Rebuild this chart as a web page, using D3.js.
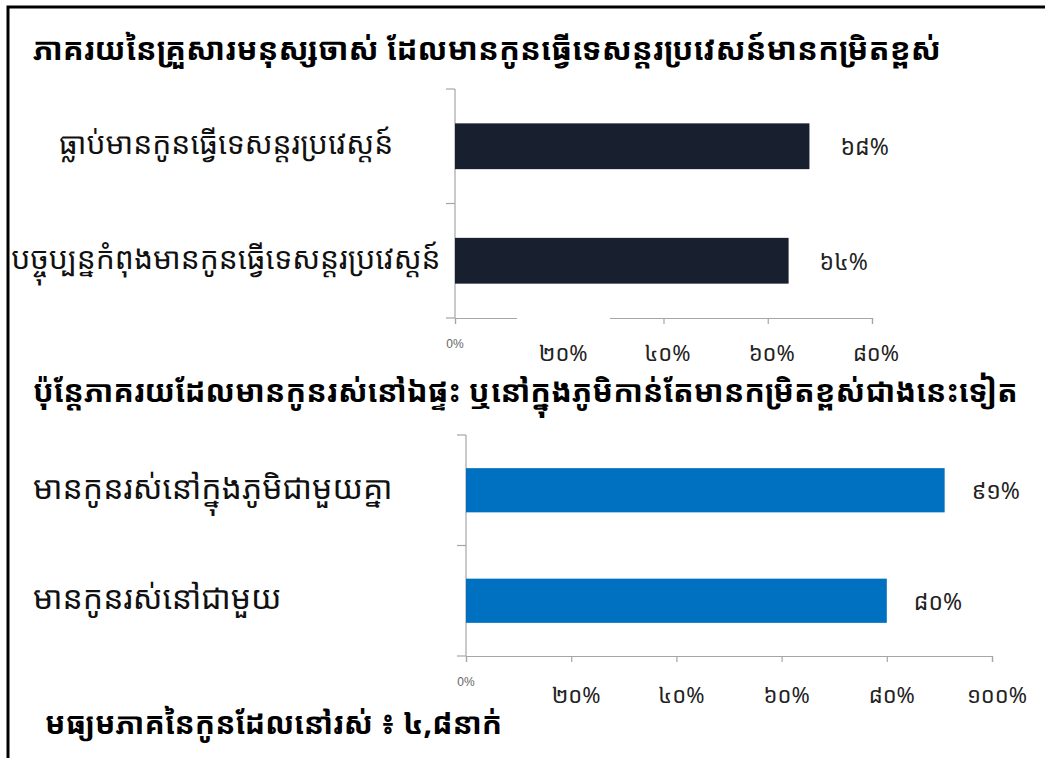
<!DOCTYPE html>
<html>
<head>
<meta charset="utf-8">
<script src="https://cdn.jsdelivr.net/npm/d3@7"></script>
<style>
html,body{margin:0;padding:0;background:#fff;}
svg{display:block;}
.kh{font-family:"Noto Sans Khmer","Khmer OS System","Khmer OS","Noto Serif Khmer","Hanuman","Battambang","DejaVu Sans",sans-serif;}
</style>
</head>
<body>
<svg id="c" width="1050" height="758"></svg>
<script>
// ---- data ----
const title1 = "ភាគរយនៃគ្រួសារមនុស្សចាស់ ដែលមានកូនធ្វើទេសន្តរប្រវេសន៍មានកម្រិតខ្ពស់";
const title2 = "ប៉ុន្តែភាគរយដែលមានកូនរស់នៅឯផ្ទះ ឬនៅក្នុងភូមិកាន់តែមានកម្រិតខ្ពស់ជាងនេះទៀត";
const title3 = "មធ្យមភាគនៃកូនដែលនៅរស់ ៖ ៤,៨នាក់";

const categories1 = ["ធ្លាប់មានកូនធ្វើទេសន្តរប្រវេស្តន៍", "បច្ចុប្បន្នកំពុងមានកូនធ្វើទេសន្តរប្រវេស្តន៍"];
const values1 = [68, 64];
const valueLabels1 = ["៦៨%", "៦៤%"];
const ticks1 = [0, 20, 40, 60, 80];
const tickLabels1 = ["0%", "២០%", "៤០%", "៦០%", "៨០%"];

const categories2 = ["មានកូនរស់នៅក្នុងភូមិជាមួយគ្នា", "មានកូនរស់នៅជាមួយ"];
const values2 = [91, 80];
const valueLabels2 = ["៩១%", "៨០%"];
const ticks2 = [0, 20, 40, 60, 80, 100];
const tickLabels2 = ["0%", "២០%", "៤០%", "៦០%", "៨០%", "១០០%"];

// ---- drawing ----
const svg = d3.select("#c");
const axisColor = "#a6a6a6";

// frame
svg.append("path")
  .attr("d", "M8,758 L8,7 L1045,7")
  .attr("fill", "none").attr("stroke", "#000").attr("stroke-width", 3);

function title(txt, x, y, size) {
  svg.append("text").attr("class", "kh").attr("x", x).attr("y", y)
    .attr("font-size", size).attr("font-weight", "bold").attr("fill", "#000")
    .attr("dominant-baseline", "middle").text(txt);
}
title(title1, 33, 52, 31);
title(title2, 33, 394, 30.5);
title(title3, 45, 726, 30);

function chart(opts) {
  const {cats, vals, vlabels, ticks, tlabels, x0, x1, max, y0, y1, color, labelX, labelAnchor, tickDy, gap} = opts;
  const x = d3.scaleLinear().domain([0, max]).range([x0, x1]);
  const y = d3.scaleBand().domain(cats).range([y0, y1]).paddingInner(0.6).paddingOuter(0.3);
  const g = svg.append("g");

  // y axis line + category ticks (band boundaries)
  g.append("line").attr("x1", x0).attr("x2", x0).attr("y1", y0).attr("y2", y1)
    .attr("stroke", axisColor).attr("stroke-width", 1.2);
  const bounds = [y0].concat(cats.map(c => y(c) + y.bandwidth() + y.step() * y.paddingInner() / 2));
  bounds[bounds.length - 1] = y1;
  g.selectAll(".yt").data(bounds).join("line")
    .attr("x1", x0 - 9).attr("x2", x0).attr("y1", d => d).attr("y2", d => d)
    .attr("stroke", axisColor).attr("stroke-width", 1.2);

  // x axis
  const xa = d3.axisBottom(x).tickValues(ticks).tickSize(6).tickFormat("");
  const ax = g.append("g").attr("transform", `translate(0,${y1})`).call(xa);
  ax.select(".domain").attr("stroke", axisColor).attr("stroke-width", 1.2);
  ax.selectAll(".tick line").attr("stroke", axisColor).attr("stroke-width", 1.2);
  if (gap) {
    g.append("rect").attr("x", gap[0]).attr("y", y1 - 3).attr("width", gap[1] - gap[0]).attr("height", 12).attr("fill", "#fff");
  }

  // tick labels
  g.selectAll(".tl").data(ticks).join("text")
    .attr("class", (d, i) => i === 0 ? "" : "kh")
    .attr("x", (d, i) => x(d) + (i === 0 ? 0 : opts.tickDx))
    .attr("y", (d, i) => y1 + (i === 0 ? 27 : tickDy))
    .attr("text-anchor", "middle").attr("dominant-baseline", "middle")
    .attr("font-family", (d, i) => i === 0 ? "Liberation Sans, Arial, sans-serif" : null)
    .attr("font-size", (d, i) => i === 0 ? 12 : 22)
    .attr("fill", (d, i) => i === 0 ? "#666" : "#222")
    .text((d, i) => tlabels[i]);

  // bars
  g.selectAll(".bar").data(vals).join("rect")
    .attr("x", x(0)).attr("y", (d, i) => y(cats[i]))
    .attr("width", d => x(d) - x(0)).attr("height", y.bandwidth())
    .attr("fill", color);

  // value labels
  g.selectAll(".vl").data(vals).join("text").attr("class", "kh")
    .attr("x", d => x(d) + opts.valDx)
    .attr("y", (d, i) => y(cats[i]) + y.bandwidth() / 2 + 3)
    .attr("dominant-baseline", "middle").attr("font-size", 23).attr("fill", "#222")
    .text((d, i) => vlabels[i]);

  // category labels
  g.selectAll(".cl").data(cats).join("text").attr("class", "kh")
    .attr("x", labelX).attr("y", d => y(d) + y.bandwidth() / 2)
    .attr("text-anchor", labelAnchor).attr("dominant-baseline", "middle")
    .attr("font-size", opts.catSize).attr("fill", "#111")
    .text(d => d);
}

chart({cats: categories1, vals: values1, vlabels: valueLabels1, ticks: ticks1, tlabels: tickLabels1,
  x0: 455, x1: 872, max: 80, y0: 89, y1: 318, color: "#18202f", labelX: 226, labelAnchor: "middle",
  tickDy: 37, tickDx: 4, valDx: 31, gap: [517, 610], catSize: 30});

chart({cats: categories2, vals: values2, vlabels: valueLabels2, ticks: ticks2, tlabels: tickLabels2,
  x0: 466, x1: 992, max: 100, y0: 435, y1: 656, color: "#0070c0", labelX: 33, labelAnchor: "start",
  tickDy: 41, tickDx: 5, valDx: 27, gap: null, catSize: 32});
</script>
</body>
</html>
